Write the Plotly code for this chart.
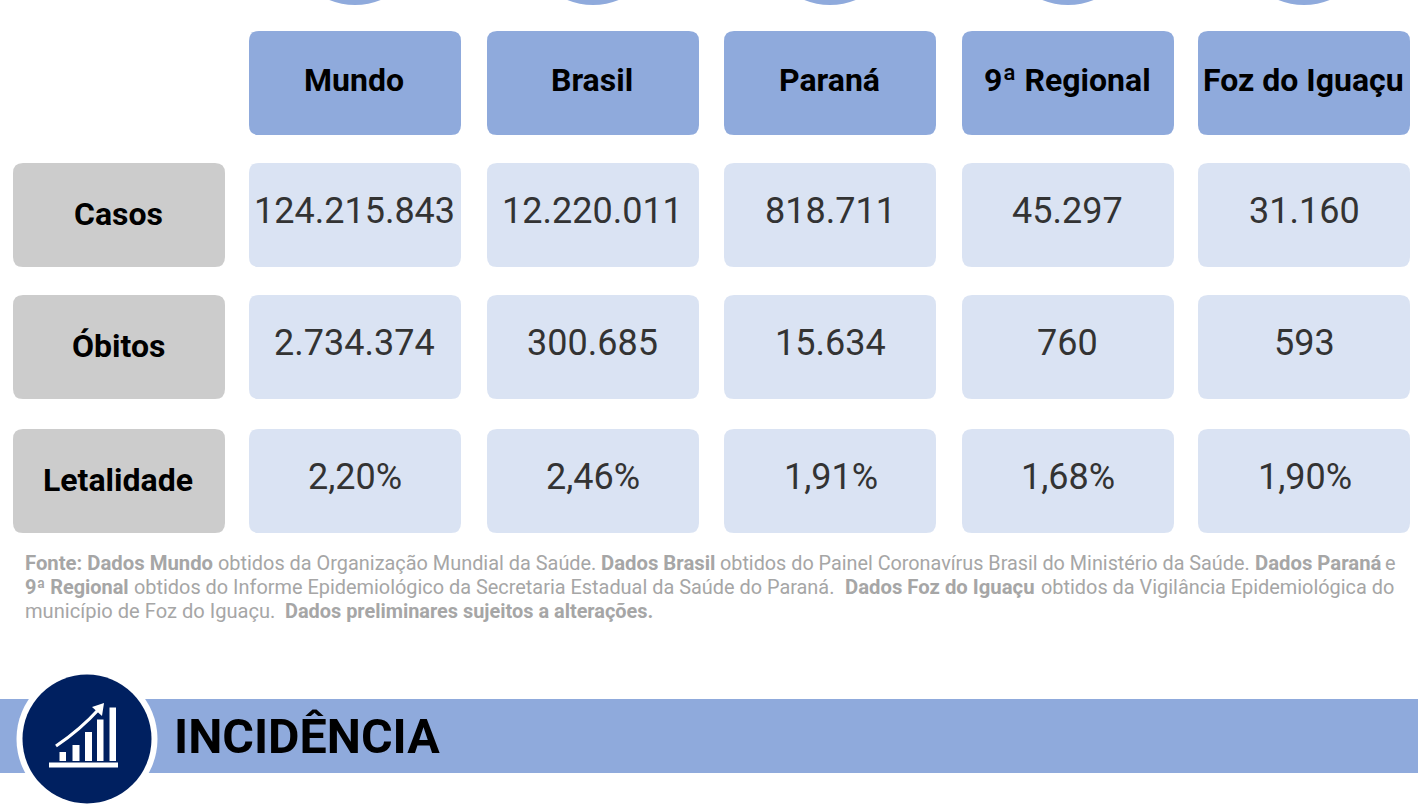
import plotly.graph_objects as go

# ---- data ----
regions = ["Mundo", "Brasil", "Paraná", "9ª Regional", "Foz do Iguaçu"]
metrics = ["Casos", "Óbitos", "Letalidade"]
casos = ["124.215.843", "12.220.011", "818.711", "45.297", "31.160"]
obitos = ["2.734.374", "300.685", "15.634", "760", "593"]
letalidade = ["2,20%", "2,46%", "1,91%", "1,68%", "1,90%"]
section_title = "INCIDÊNCIA"
source_lines = [
    [("Fonte: Dados Mundo", True), ("obtidos da Organização Mundial da Saúde.", False),
     ("Dados Brasil", True), ("obtidos do Painel Coronavírus Brasil do Ministério da Saúde.", False),
     ("Dados Paraná", True), ("e", False)],
    [("9ª Regional", True), ("obtidos do Informe Epidemiológico da Secretaria Estadual da Saúde do Paraná.", False),
     ("Dados Foz do Iguaçu", True), ("obtidos da Vigilância Epidemiológica do", False)],
    [("município de Foz do Iguaçu.", False), ("Dados preliminares sujeitos a alterações.", True)],
]

# ---- layout constants ----
W, H = 1418, 811
col_x = [249, 487, 724, 962, 1198]
value_shift = [-0.5, -0.5, 0.5, -0.5, 0.5]
cell_w = 212
label_x = 13
row_y = [163, 295, 429]
head_y = 31
cell_h = 104
source_y = [563, 587, 611]
source_x = [[25, 218, 601, 720, 1255, 1385], [25, 134, 845, 1041], [25, 285]]
source_size = [[20.3, 19.9, 20.3, 19.8, 20.3, 19.9], [19.9, 19.9, 20.3, 19.9], [20.1, 19.9]]
BLUE, LIGHT, GREY, NAVY = "#8faadc", "#dae3f3", "#cccccc", "#002060"
FONT = "Roboto"
shapes, notes = [], []


def rrect(x, y, w, h, fill, r=10):
    path = (f"M{x+r},{y} L{x+w-r},{y} Q{x+w},{y} {x+w},{y+r} L{x+w},{y+h-r} Q{x+w},{y+h} {x+w-r},{y+h} "
            f"L{x+r},{y+h} Q{x},{y+h} {x},{y+h-r} L{x},{y+r} Q{x},{y} {x+r},{y} Z")
    shapes.append(dict(type="path", path=path, fillcolor=fill, line_width=0, layer="below"))


def rect(x0, y0, x1, y1, fill):
    shapes.append(dict(type="rect", x0=x0, y0=y0, x1=x1, y1=y1, fillcolor=fill, line_width=0, layer="below"))


def circle(cx, cy, r, fill):
    shapes.append(dict(type="circle", x0=cx-r, x1=cx+r, y0=cy-r, y1=cy+r, fillcolor=fill, line_width=0, layer="below"))


def text(x, y, s, size, color="#000000", bold=False, anchor="center"):
    notes.append(dict(x=x, y=y, text=f"<b>{s}</b>" if bold else s, showarrow=False, xanchor=anchor,
                      yanchor="middle", font=dict(family=FONT, size=size, color=color),
                      xref="x", yref="y", borderpad=0, borderwidth=0))


# top circles, cropped by the window
for x in col_x:
    circle(x + cell_w / 2, -63.5, 68.5, BLUE)

# header row
for x, name in zip(col_x, regions):
    rrect(x, head_y, cell_w, cell_h, BLUE)
    text(x + cell_w / 2 - 1, 80, name, 32, bold=True)

# body rows
for y, name, vals in zip(row_y, metrics, [casos, obitos, letalidade]):
    rrect(label_x, y, cell_w, cell_h, GREY)
    text(label_x + cell_w / 2 - 1, y + 51, name, 32, bold=True)
    for x, v, dx in zip(col_x, vals, value_shift):
        rrect(x, y, cell_w, cell_h, LIGHT)
        text(x + cell_w / 2 + dx, y + 48, v, 36, color="#333333")

# source note
for y, segs, xs, sizes in zip(source_y, source_lines, source_x, source_size):
    for (s, b), x, sz in zip(segs, xs, sizes):
        text(x, y, s, sz, color="#a6a6a6", bold=b, anchor="left")

# section band and icon
rect(0, 699, W, 773, BLUE)
circle(87, 739, 70.5, "#ffffff")
circle(87, 739, 64.5, NAVY)
for x0, x1, y0 in [(59.5, 66, 752), (72.5, 79.5, 745), (85, 92, 732), (97, 103.5, 719.5), (109.5, 116, 707.5)]:
    rect(x0, y0, x1, 761, "#ffffff")
rect(49, 762.5, 118, 767.5, "#ffffff")
shapes.append(dict(type="path", path="M56,746 Q80,730 100,708", line=dict(color="#ffffff", width=3.2), layer="below"))
shapes.append(dict(type="path", path="M104,703 L92,707 L102,716 Z", fillcolor="#ffffff", line_width=0, layer="below"))
text(174, 736, section_title, 48.4, bold=True, anchor="left")

fig = go.Figure()
fig.update_layout(
    width=W, height=H, margin=dict(l=0, r=0, t=0, b=0), autosize=False,
    paper_bgcolor="#ffffff", plot_bgcolor="#ffffff", showlegend=False,
    xaxis=dict(range=[0, W], visible=False, fixedrange=True),
    yaxis=dict(range=[H, 0], visible=False, fixedrange=True),
    shapes=shapes, annotations=notes,
)
fig.write_html("out.html", config={"displayModeBar": False},
               post_script="document.body.style.margin='0';document.body.style.overflow='hidden';")
